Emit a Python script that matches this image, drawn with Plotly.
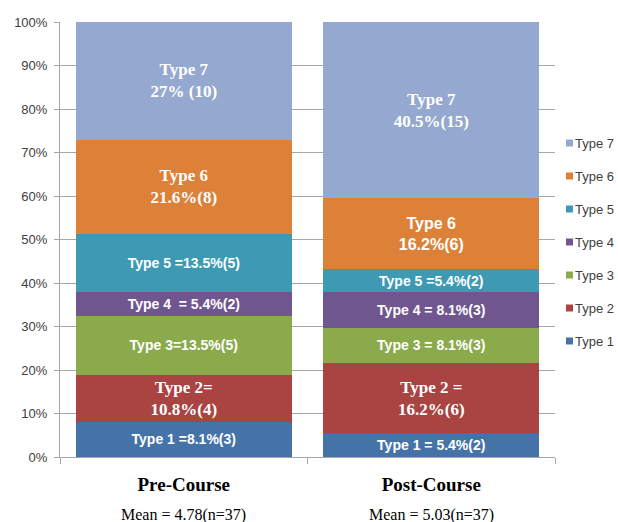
import plotly.graph_objects as go

# Course groups and their summary lines
courses = ["Pre-Course", "Post-Course"]
course_means = ["Mean = 4.78(n=37)", "Mean = 5.03(n=37)"]

# Share of students (%) in each type, bottom to top of the stack
types = ["Type 1", "Type 2", "Type 3", "Type 4", "Type 5", "Type 6", "Type 7"]
pre_pct = [8.1, 10.8, 13.5, 5.4, 13.5, 21.6, 27.0]
post_pct = [5.4, 16.2, 8.1, 8.1, 5.4, 16.2, 40.5]

# Segment labels as printed in each bar
pre_labels = [
    "Type 1 =8.1%(3)",
    "Type 2=<br>10.8%(4)",
    "Type 3=13.5%(5)",
    "Type 4\u00a0\u00a0= 5.4%(2)",
    "Type 5 =13.5%(5)",
    "Type 6<br>21.6%(8)",
    "Type 7<br>27% (10)",
]
post_labels = [
    "Type 1 = 5.4%(2)",
    "Type 2 =<br>16.2%(6)",
    "Type 3 = 8.1%(3)",
    "Type 4 = 8.1%(3)",
    "Type 5 =5.4%(2)",
    "Type 6<br>16.2%(6)",
    "Type 7<br>40.5%(15)",
]
# label style per segment
pre_style = ["sans", "serif", "sans", "sans", "sans", "serif", "serif"]
post_style = ["sans", "serif", "sans", "sans", "sans", "sans-lg", "serif"]

colors = ["#4573A8", "#A94442", "#8BAA4B", "#70568F", "#3D9AB2", "#DD8139", "#95A9D0"]

SERIF = "Liberation Serif, Times New Roman, serif"
SANS = "Liberation Sans, Arial, sans-serif"
STYLE_FONT = {"serif": (SERIF, 17), "sans": (SANS, 14), "sans-lg": (SANS, 16)}

W, H = 618, 522
ML, MR, MT, MB = 60, 63, 22, 65
PW, PH = W - ML - MR, H - MT - MB


def px_to_paper_x(px):
    return (px - ML) / PW


def px_to_paper_y(py):
    return (H - MB - py) / PH


fig = go.Figure()
for i, t in enumerate(types):
    styles = [STYLE_FONT[pre_style[i]], STYLE_FONT[post_style[i]]]
    fig.add_trace(go.Bar(
        name=t,
        x=courses,
        y=[pre_pct[i], post_pct[i]],
        marker=dict(color=colors[i], line=dict(width=0)),
        text=[pre_labels[i], post_labels[i]],
        textposition="inside",
        insidetextanchor="middle",
        textangle=0,
        constraintext="none",
        textfont=dict(color="white", family=[s[0] for s in styles],
                      size=[s[1] for s in styles], weight="bold"),
        showlegend=False,
        hoverinfo="skip",
    ))

# Course means below the category names
for c, m in zip(courses, course_means):
    fig.add_annotation(
        x=c, xref="x", y=px_to_paper_y(515), yref="paper", yanchor="middle",
        text=m, showarrow=False,
        font=dict(family=SERIF, size=16, color="#000000"),
    )

# Legend on the right: Type 7 at top, Type 1 at bottom, small square swatches
legend_top, legend_step = 143, 33
for k, i in enumerate(reversed(range(len(types)))):
    yc = legend_top + k * legend_step
    fig.add_shape(
        type="rect", xref="paper", yref="paper",
        x0=px_to_paper_x(566), x1=px_to_paper_x(573),
        y0=px_to_paper_y(yc + 3.5), y1=px_to_paper_y(yc - 3.5),
        fillcolor=colors[i], line=dict(width=0),
    )
    fig.add_annotation(
        x=px_to_paper_x(573), xref="paper", xanchor="left",
        y=px_to_paper_y(yc), yref="paper", yanchor="middle",
        text=types[i], showarrow=False,
        font=dict(family=SANS, size=13, color="#404040"),
    )

fig.update_layout(
    barmode="stack",
    barnorm="percent",
    bargap=0.127,
    width=W,
    height=H,
    margin=dict(l=ML, r=MR, t=MT, b=MB, autoexpand=False),
    paper_bgcolor="white",
    plot_bgcolor="white",
    showlegend=False,
    font=dict(family=SANS, color="#404040"),
)

fig.update_yaxes(
    range=[0, 100],
    tickvals=[0, 10, 20, 30, 40, 50, 60, 70, 80, 90, 100],
    ticktext=[f"{v}%" for v in range(0, 101, 10)],
    tickfont=dict(family=SANS, size=13, color="#404040"),
    showgrid=True, gridcolor="#A6A6A6", gridwidth=1,
    showline=True, linecolor="#A6A6A6", linewidth=1,
    ticks="outside", ticklen=5, tickcolor="#A6A6A6",
    zeroline=False,
    ticklabelstandoff=4,
)
fig.update_xaxes(
    type="category",
    tickmode="array",
    tickvals=courses,
    ticktext=[f"<b>{c}</b>" for c in courses],
    tickfont=dict(family=SERIF, size=19, color="#000000"),
    tickson="boundaries",
    ticks="outside", ticklen=6, tickcolor="#A6A6A6",
    showline=True, linecolor="#A6A6A6", linewidth=1,
    showgrid=False,
    ticklabelstandoff=10,
)

fig.write_html("out.html")
